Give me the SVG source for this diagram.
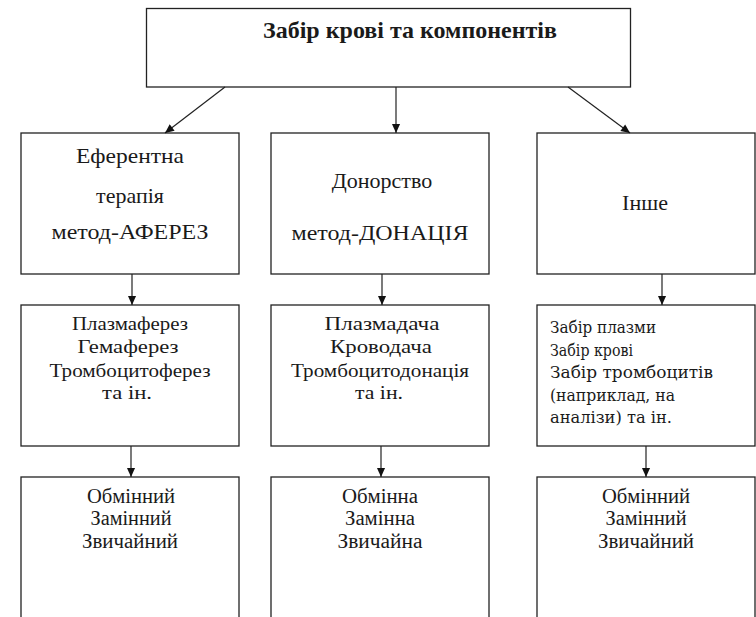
<svg xmlns="http://www.w3.org/2000/svg" width="756" height="617" viewBox="0 0 756 617">
<defs>
<marker id="ah" viewBox="0 0 10 10" refX="10" refY="5" markerWidth="10" markerHeight="9" orient="auto" markerUnits="userSpaceOnUse">
<path d="M0,0.5 L10,5 L0,9.5 z" fill="#111"/>
</marker>
<style>
.box{fill:#fff;stroke:#222;stroke-width:1.3}
.c{stroke:#222;stroke-width:1.2;fill:none;marker-end:url(#ah)}
.t{fill:#1a1a1a;text-anchor:middle}
.h{font-size:23px;font-weight:bold}
.r1{font-size:22px}
.r2{font-size:18px}
.r3{font-size:20px}
.cb{font-size:16px;fill:#1a1a1a}
</style>
</defs>
<rect width="756" height="617" fill="#fff"/>

<g font-family="'Liberation Serif', 'Times New Roman', serif">
<g id="top">
<rect class="box" x="146.5" y="8.5" width="484" height="78.5"/>
<text class="t h" x="410" y="38" textLength="294" lengthAdjust="spacingAndGlyphs">Забір крові та компонентів</text>
</g>

<g id="eferent">
<rect class="box" x="21" y="133" width="218" height="141"/>
<text class="t r1" x="130" y="163" textLength="108" lengthAdjust="spacingAndGlyphs">Еферентна</text>
<text class="t r1" x="130" y="203">терапія</text>
<text class="t r1" x="130" y="239" textLength="157" lengthAdjust="spacingAndGlyphs">метод-АФЕРЕЗ</text>
</g>

<g id="donor">
<rect class="box" x="271" y="133" width="218" height="141"/>
<text class="t r1" x="382" y="188">Донорство</text>
<text class="t r1" x="380" y="240" textLength="177" lengthAdjust="spacingAndGlyphs">метод-ДОНАЦІЯ</text>
</g>

<g id="other">
<rect class="box" x="537" y="133" width="218" height="141"/>
<text class="t r1" x="645" y="210">Інше</text>
</g>

<g id="apheresis-list">
<rect class="box" x="21" y="305" width="218" height="141"/>
<text class="t r2" x="130" y="330" textLength="116" lengthAdjust="spacingAndGlyphs">Плазмаферез</text>
<text class="t r2" x="128" y="353" textLength="101" lengthAdjust="spacingAndGlyphs">Гемаферез</text>
<text class="t r2" x="130" y="377" textLength="161" lengthAdjust="spacingAndGlyphs">Тромбоцитоферез</text>
<text class="t r2" x="127" y="399" textLength="50" lengthAdjust="spacingAndGlyphs">та ін.</text>
</g>

<g id="donation-list">
<rect class="box" x="271" y="305" width="218" height="141"/>
<text class="t r2" x="382" y="330" textLength="115" lengthAdjust="spacingAndGlyphs">Плазмадача</text>
<text class="t r2" x="381" y="353" textLength="102" lengthAdjust="spacingAndGlyphs">Кроводача</text>
<text class="t r2" x="380" y="377" textLength="178" lengthAdjust="spacingAndGlyphs">Тромбоцитодонація</text>
<text class="t r2" x="379" y="399" textLength="48" lengthAdjust="spacingAndGlyphs">та ін.</text>
</g>

<g id="apheresis-types">
<rect class="box" x="21" y="477" width="218" height="170"/>
<text class="t r3" x="131" y="503" textLength="88" lengthAdjust="spacingAndGlyphs">Обмінний</text>
<text class="t r3" x="131" y="525" textLength="81" lengthAdjust="spacingAndGlyphs">Замінний</text>
<text class="t r3" x="130" y="548" textLength="96" lengthAdjust="spacingAndGlyphs">Звичайний</text>
</g>

<g id="donation-types">
<rect class="box" x="271" y="477" width="218" height="170"/>
<text class="t r3" x="380" y="503" textLength="76" lengthAdjust="spacingAndGlyphs">Обмінна</text>
<text class="t r3" x="380" y="525" textLength="70" lengthAdjust="spacingAndGlyphs">Замінна</text>
<text class="t r3" x="380" y="548" textLength="85" lengthAdjust="spacingAndGlyphs">Звичайна</text>
</g>

<g id="other-types">
<rect class="box" x="537" y="477" width="218" height="170"/>
<text class="t r3" x="646" y="503" textLength="88" lengthAdjust="spacingAndGlyphs">Обмінний</text>
<text class="t r3" x="646" y="525" textLength="81" lengthAdjust="spacingAndGlyphs">Замінний</text>
<text class="t r3" x="646" y="548" textLength="96" lengthAdjust="spacingAndGlyphs">Звичайний</text>
</g>
</g>

<g id="other-list" font-family="'DejaVu Serif', 'Liberation Serif', serif">
<rect class="box" x="537" y="305" width="218" height="141"/>
<text class="cb" x="550" y="333" textLength="106" lengthAdjust="spacingAndGlyphs">Забір плазми</text>
<text class="cb" x="550" y="356" textLength="83" lengthAdjust="spacingAndGlyphs">Забір крові</text>
<text class="cb" x="550" y="378" textLength="163" lengthAdjust="spacingAndGlyphs">Забір тромбоцитів</text>
<text class="cb" x="550" y="401" textLength="125" lengthAdjust="spacingAndGlyphs">(наприклад, на</text>
<text class="cb" x="550" y="423" textLength="122" lengthAdjust="spacingAndGlyphs">аналізи) та ін.</text>
</g>

<g id="connectors">
<line class="c" x1="225" y1="87" x2="165" y2="133"/>
<line class="c" x1="396" y1="87" x2="396" y2="133"/>
<line class="c" x1="568" y1="87" x2="630" y2="133"/>
<line class="c" x1="132" y1="274" x2="132" y2="305"/>
<line class="c" x1="382" y1="274" x2="382" y2="305"/>
<line class="c" x1="662" y1="274" x2="662" y2="305"/>
<line class="c" x1="131" y1="446" x2="131" y2="477"/>
<line class="c" x1="381" y1="446" x2="381" y2="477"/>
<line class="c" x1="646" y1="446" x2="646" y2="477"/>
</g>
</svg>
